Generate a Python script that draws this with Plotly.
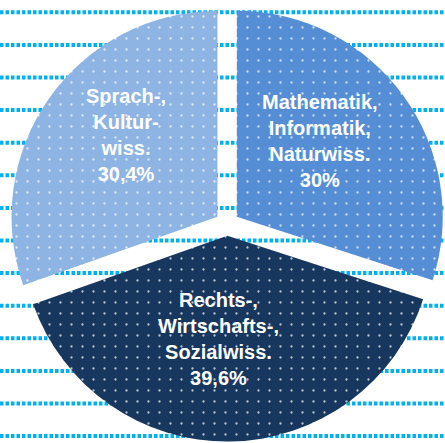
import plotly.graph_objects as go

# Anteile der Fächergruppen (%), im Uhrzeigersinn ab 12 Uhr
labels = ["Mathematik,<br>Informatik,<br>Naturwiss.",
          "Rechts-,<br>Wirtschafts-,<br>Sozialwiss.",
          "Sprach-,<br>Kultur-<br>wiss."]
values = [30, 39.6, 30.4]
colors = ["#558ED5", "#17375E", "#8EB4E3"]

# Mittelpunkt der Beschriftungen (Pixel im Bild)
label_pos = [(320, 141), (218, 339), (126, 135)]

W, H = 445, 443

fig = go.Figure(go.Pie(
    labels=labels,
    values=values,
    sort=False,
    direction="clockwise",
    rotation=0,
    pull=0.058,
    marker=dict(colors=colors, line=dict(width=0),
                pattern=dict(shape=".", fgcolor="white", bgcolor=colors,
                             fgopacity=0.7, size=11, solidity=0.035,
                             fillmode="replace")),
    textinfo="none",
    hoverinfo="label+percent",
    showlegend=False,
    domain=dict(x=[0.021, 1.0], y=[0.0, 0.99]),
))

# gepunktete Hintergrundlinien
for k in range(14):
    y = 12.3 + 32.6 * k
    fig.add_shape(type="line", xref="paper", yref="paper",
                  x0=0, x1=1, y0=1 - y / H, y1=1 - y / H, layer="below",
                  line=dict(color="#00B0F0", width=4, dash="3.5px,2px"))

for lab, val, (px, py) in zip(labels, values, label_pos):
    num = f"{val:g}".replace(".", ",")
    fig.add_annotation(x=px / W, y=1 - py / H, xref="paper", yref="paper",
                       text=f"{lab}<br>{num}%", showarrow=False,
                       xanchor="center", yanchor="middle",
                       font=dict(family="Liberation Sans, Arial", size=20,
                                 color="white", weight="bold"))

fig.update_layout(
    width=W, height=H,
    margin=dict(l=0, r=0, t=0, b=0),
    paper_bgcolor="white",
    plot_bgcolor="white",
)

# Standard-Rand des <body> entfernen, keine Werkzeugleiste
fig.write_html("out.html", config={"displayModeBar": False},
               post_script="document.body.style.margin='0';")
